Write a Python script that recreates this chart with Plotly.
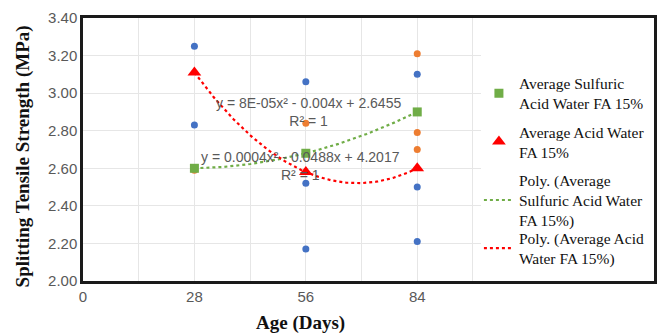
import numpy as np
import plotly.graph_objects as go

# ---- data ----
ages = [28, 56, 84]
avg_sulfuric = [2.60, 2.68, 2.90]
avg_acid = [3.11, 2.58, 2.60]

blue_x = [28, 28, 56, 56, 56, 84, 84, 84]
blue_y = [3.25, 2.83, 3.06, 2.52, 2.17, 3.10, 2.50, 2.21]
orange_x = [28, 56, 84, 84, 84]
orange_y = [2.59, 2.84, 3.21, 2.79, 2.70]

x_ticks = [0, 28, 56, 84]
y_ticks = [2.00, 2.20, 2.40, 2.60, 2.80, 3.00, 3.20, 3.40]

eq_sulfuric = "y = 8E-05x² - 0.004x + 2.6455<br>R² = 1"
eq_acid = "y = 0.0004x² - 0.0488x + 4.2017<br>R² = 1"

names = [
    "Average Sulfuric<br>Acid Water FA 15%",
    "Average Acid Water<br>FA 15%",
    "Poly. (Average<br>Sulfuric Acid Water<br>FA 15%)",
    "Poly. (Average Acid<br>Water FA 15%)",
]

GREEN = "#70AD47"
RED = "#FF0000"
BLUE = "#4472C4"
ORANGE = "#ED7D31"
GRAY = "#595959"
SERIF = "Liberation Serif"
SANS = "Liberation Sans"

PLOT_FRAC = 400 / 574  # plot area share of the framed chart area

# polynomial trendlines (order 2) fitted to averages
xs = np.linspace(min(ages), max(ages), 120)
ps = np.polyfit(ages, avg_sulfuric, 2)
pa = np.polyfit(ages, avg_acid, 2)

fig = go.Figure()
# empty trace on the frame axes so the outer frame subplot exists
fig.add_trace(go.Scatter(x=[], y=[], xaxis="x2", yaxis="y2", showlegend=False,
                         hoverinfo="skip"))
fig.add_trace(go.Scatter(x=blue_x, y=blue_y, mode="markers",
                         marker=dict(color=BLUE, size=7), showlegend=False))
fig.add_trace(go.Scatter(x=orange_x, y=orange_y, mode="markers",
                         marker=dict(color=ORANGE, size=7), showlegend=False))
fig.add_trace(go.Scatter(x=ages, y=avg_sulfuric, mode="markers", name=names[0],
                         legendgroup="a",
                         marker=dict(color=GREEN, size=9, symbol="square")))
fig.add_trace(go.Scatter(x=ages, y=avg_acid, mode="markers", name=names[1],
                         legendgroup="b",
                         marker=dict(color=RED, size=12, symbol="triangle-up")))
fig.add_trace(go.Scatter(x=xs, y=np.polyval(ps, xs), mode="lines", name=names[2],
                         legendgroup="c",
                         line=dict(color=GREEN, width=2.2, dash="dot")))
fig.add_trace(go.Scatter(x=xs, y=np.polyval(pa, xs), mode="lines", name=names[3],
                         legendgroup="d", legend="legend2",
                         line=dict(color=RED, width=2.2, dash="dot")))

fig.add_annotation(x=56.75, y=2.90, text=eq_sulfuric, showarrow=False,
                   font=dict(family=SANS, size=14, color=GRAY))
fig.add_annotation(x=54.75, y=2.61, text=eq_acid, showarrow=False,
                   font=dict(family=SANS, size=14, color=GRAY))

# axis titles
fig.add_annotation(xref="paper", yref="paper", x=-60 / 574, y=0.475,
                   text="<b>Splitting Tensile Strength (MPa)</b>", textangle=-90,
                   showarrow=False, xanchor="center", yanchor="middle",
                   font=dict(family=SERIF, size=19, color="#111111"))
fig.add_annotation(xref="paper", yref="paper", x=219 / 574, y=-0.159,
                   text="<b>Age (Days)</b>", showarrow=False,
                   xanchor="center", yanchor="middle",
                   font=dict(family=SERIF, size=19, color="#111111"))

legend_font = dict(family=SERIF, size=15.5, color="#111111")

fig.update_layout(
    width=666, height=336,
    margin=dict(l=83, r=9, t=17, b=55),
    plot_bgcolor="rgba(0,0,0,0)", paper_bgcolor="white",
    showlegend=True,
    legend=dict(x=398 / 574, y=0.815, xanchor="left", yanchor="top",
                font=legend_font, bgcolor="rgba(0,0,0,0)", tracegroupgap=5),
    legend2=dict(x=398 / 574, y=0.226, xanchor="left", yanchor="top",
                 font=legend_font, bgcolor="rgba(0,0,0,0)"),
    xaxis=dict(domain=[0, PLOT_FRAC], range=[0, 100], tickvals=x_ticks,
               ticktext=[str(v) for v in x_ticks],
               showgrid=True, gridcolor="#e6e6e6", gridwidth=1,
               minor=dict(dtick=14, tick0=0, showgrid=True, gridcolor="#e6e6e6"),
               showline=True, linecolor="#1a1a1a", linewidth=2.5,
               zeroline=False, ticks="",
               tickfont=dict(family=SANS, size=15, color=GRAY)),
    yaxis=dict(range=[2.0, 3.4], tickvals=y_ticks,
               ticktext=[f"{v:.2f}" for v in y_ticks],
               showgrid=True, gridcolor="#e6e6e6", gridwidth=1,
               showline=True, linecolor="#1a1a1a", linewidth=2.5,
               zeroline=False, ticks="",
               tickfont=dict(family=SANS, size=15, color=GRAY)),
    xaxis2=dict(domain=[0, 1], anchor="y2", range=[0, 1], showgrid=False,
                zeroline=False, showticklabels=False, ticks="",
                showline=True, mirror=True, linecolor="#1a1a1a", linewidth=2.5),
    yaxis2=dict(domain=[0, 1], anchor="x2", range=[0, 1], showgrid=False,
                zeroline=False, showticklabels=False, ticks="",
                showline=True, mirror=True, linecolor="#1a1a1a", linewidth=2.5),
)

fig.write_html("out.html")
